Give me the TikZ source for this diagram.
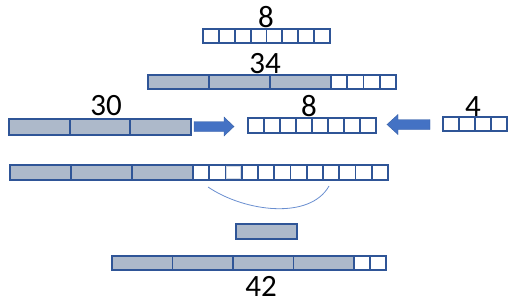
\documentclass[tikz,border=0pt]{standalone}
\usepackage{fontspec}
\setmainfont{Carlito}
\definecolor{edge}{HTML}{2F5597}
\definecolor{barfill}{HTML}{ADB9CA}
\definecolor{arrowblue}{HTML}{4472C4}
\definecolor{lightedge}{HTML}{D6DCE5}
\begin{document}
\begin{tikzpicture}[x=1pt,y=-1pt,
  cell/.style={draw=edge,line width=1.9pt,fill=white},
  graycell/.style={draw=edge,line width=1.9pt,fill=barfill},
  lbl/.style={font=\fontsize{31}{31}\selectfont,anchor=base,inner sep=0pt},
  blockarrow/.style={fill=arrowblue,draw=edge!70!arrowblue,line width=0.4pt}]
\useasboundingbox (0,0) rectangle (513,301);
% row 1: 8 cells
\foreach \i in {0,...,7} \draw[cell] ({203+\i*15.875},29) rectangle ({203+(\i+1)*15.875},43);
\node[lbl] (l1) at (266,27) {8};
% row 2: 34
\foreach \i in {0,1,2} \draw[graycell] ({148+\i*61},75) rectangle ({148+(\i+1)*61},89);
\foreach \i in {0,...,3} \draw[cell] ({331+\i*16.25},75) rectangle ({331+(\i+1)*16.25},89);
\node[lbl] (l2) at (265,73) {34};
% row 3: 30
\foreach \i in {0,1,2} \draw[graycell] ({9+\i*60.67},119) rectangle ({9+(\i+1)*60.67},135);
\node[lbl] (l3) at (106,115) {30};
% arrow right
\fill[blockarrow] (194,121.5) -- (224,121.5) -- (224,117) -- (234,126.5) -- (224,136) -- (224,131.5) -- (194,131.5) -- cycle;
% middle 8
\foreach \i in {0,...,7} \draw[cell] ({248+\i*16},118) rectangle ({248+(\i+1)*16},133);
\node[lbl] (l4) at (309,116.5) {8};
% arrow left
\fill[blockarrow] (430,119.5) -- (398,119.5) -- (398,114.5) -- (387,124.5) -- (398,134.5) -- (398,129.5) -- (430,129.5) -- cycle;
% right 4
\foreach \i in {0,...,3} \draw[cell] ({443+\i*16},117) rectangle ({443+(\i+1)*16},131);
\node[lbl] (l5) at (473,116) {4};
% row 4
\foreach \i in {0,1,2} \draw[graycell] ({10+\i*61},165) rectangle ({10+(\i+1)*61},180);
\foreach \i in {0,...,11} \draw[cell] ({193+\i*16.25},165) rectangle ({193+(\i+1)*16.25},180);
\draw[draw=lightedge,line width=1.2pt,fill=white] (226.8,166.6) rectangle (240.2,178.4);
% arc
\draw[arrowblue!80!white,line width=0.8pt] (208,187) .. controls (245,212) and (310,220) .. (329,186);
% small gray box
\draw[graycell] (236,224) rectangle (297,239);
% row 5
\foreach \i in {0,...,3} \draw[graycell] ({112+\i*60.5},256) rectangle ({112+(\i+1)*60.5},270);
\foreach \i in {0,1} \draw[cell] ({354+\i*16},256) rectangle ({354+(\i+1)*16},270);
\node[lbl] (l6) at (261,296) {42};
\end{tikzpicture}
\end{document}
